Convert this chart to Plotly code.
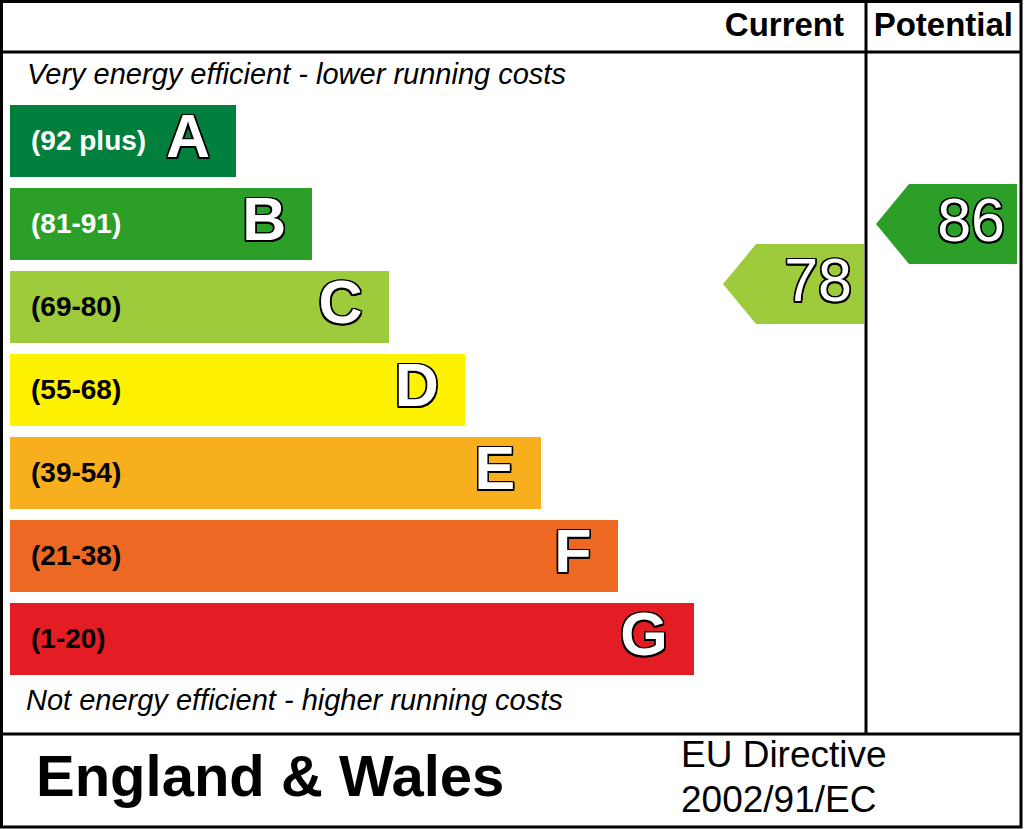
import plotly.graph_objects as go

# ---- data ----
band_letters = ["A", "B", "C", "D", "E", "F", "G"]
band_labels = ["(92 plus)", "(81-91)", "(69-80)", "(55-68)", "(39-54)", "(21-38)", "(1-20)"]
band_min = [92, 81, 69, 55, 39, 21, 1]
band_max = [100, 91, 80, 68, 54, 38, 20]
band_colors = ["#007f3d", "#2c9f29", "#9dcb3c", "#fff200", "#f7af1d", "#ed6823", "#e31d23"]
label_colors = ["white", "white", "black", "black", "black", "black", "black"]
current_value = 78
potential_value = 86
header_current = "Current"
header_potential = "Potential"
top_note = "Very energy efficient - lower running costs"
bottom_note = "Not energy efficient - higher running costs"
footer_left = "England & Wales"
footer_right = ["EU Directive", "2002/91/EC"]

# ---- layout constants (pixels) ----
W, H = 1024, 829
BAR_LEFT = 10
BAR_TOP0 = 105
BAR_STEP = 83
BAR_H = 72
BAR_LEN0 = 226
BAR_LEN_STEP = 76.3
FONT = "Liberation Sans, Arial, sans-serif"

def make_outline(r):
    pts = [(-r, -r), (r, -r), (-r, r), (r, r), (0, r), (r, 0), (0, -r), (-r, 0)]
    return ", ".join(f"{dx}px {dy}px 0 #000" for dx, dy in pts)

outline = make_outline(1.5)

fig = go.Figure()

tops = [BAR_TOP0 + BAR_STEP * i for i in range(len(band_letters))]
centers = [t + BAR_H / 2 for t in tops]
lengths = [BAR_LEN0 + BAR_LEN_STEP * i for i in range(len(band_letters))]

fig.add_trace(go.Bar(
    orientation="h", base=BAR_LEFT, x=lengths, y=centers, width=BAR_H,
    marker=dict(color=band_colors, line=dict(width=0)), hoverinfo="skip",
))

def txt(x, y, s, size, color="black", pos="middle right", bold=False, italic=False, shadow=None):
    tf = dict(family=FONT, size=size, color=color,
              weight="bold" if bold else "normal",
              style="italic" if italic else "normal")
    if shadow:
        tf["shadow"] = shadow
    fig.add_trace(go.Scatter(x=[x], y=[y], mode="text", text=[s], textposition=pos,
                             textfont=tf, hoverinfo="skip"))

# band labels and letters
for i in range(len(band_letters)):
    txt(BAR_LEFT + 21, centers[i] + 2, band_labels[i], 28, label_colors[i], "middle right", bold=True)
    txt(BAR_LEFT + lengths[i] - 26, centers[i] + 1, band_letters[i], 61, "white", "middle left",
        bold=True, shadow=outline)

def arrow_y(v):
    for i in range(len(band_letters)):
        if band_min[i] <= v <= band_max[i]:
            return tops[i] + (band_max[i] - v) / (band_max[i] - band_min[i]) * BAR_H
    return tops[-1]

def color_for(v):
    for i in range(len(band_letters)):
        if band_min[i] <= v <= band_max[i]:
            return band_colors[i]
    return band_colors[-1]

def arrow(v, right):
    yc = arrow_y(v)
    color = color_for(v)
    hh = 40
    xs = [right, right - 108, right - 141, right - 108, right, right]
    ys = [yc - hh, yc - hh, yc, yc + hh, yc + hh, yc - hh]
    fig.add_trace(go.Scatter(x=xs, y=ys, mode="lines", fill="toself", fillcolor=color,
                             line=dict(width=0, color=color), hoverinfo="skip"))
    txt(right - 12, yc + 2, str(v), 61, "white", "middle left", shadow=outline)

arrow(current_value, 864)
arrow(potential_value, 1017)

# headers and notes
txt(844, 28, header_current, 33, "black", "middle left", bold=True)
txt(1013, 28, header_potential, 33, "black", "middle left", bold=True)
txt(27, 77, top_note, 29, "black", "middle right", italic=True)
txt(26, 703, bottom_note, 29, "black", "middle right", italic=True)
txt(36, 781, footer_left, 58, "black", "middle right", bold=True)
txt(681, 758, footer_right[0], 37, "black", "middle right")
txt(681, 803, footer_right[1], 37, "black", "middle right")

# frame lines
lw = 3
shapes = [
    dict(type="rect", x0=1.5, y0=1.5, x1=1021, y1=827),
    dict(type="line", x0=1.5, y0=52, x1=1021, y1=52),
    dict(type="line", x0=1.5, y0=734, x1=1021, y1=734),
    dict(type="line", x0=866, y0=1.5, x1=866, y1=734),
]
for s in shapes:
    s.update(xref="x", yref="y", line=dict(color="black", width=lw), layer="above")

fig.update_layout(
    width=W, height=H, margin=dict(l=0, r=0, t=0, b=0, pad=0),
    paper_bgcolor="white", plot_bgcolor="white", showlegend=False,
    xaxis=dict(range=[0, W], visible=False, fixedrange=True),
    yaxis=dict(range=[H, 0], visible=False, fixedrange=True),
    shapes=shapes, bargap=0,
)
fig.write_html("out.html", config={"displayModeBar": False})
